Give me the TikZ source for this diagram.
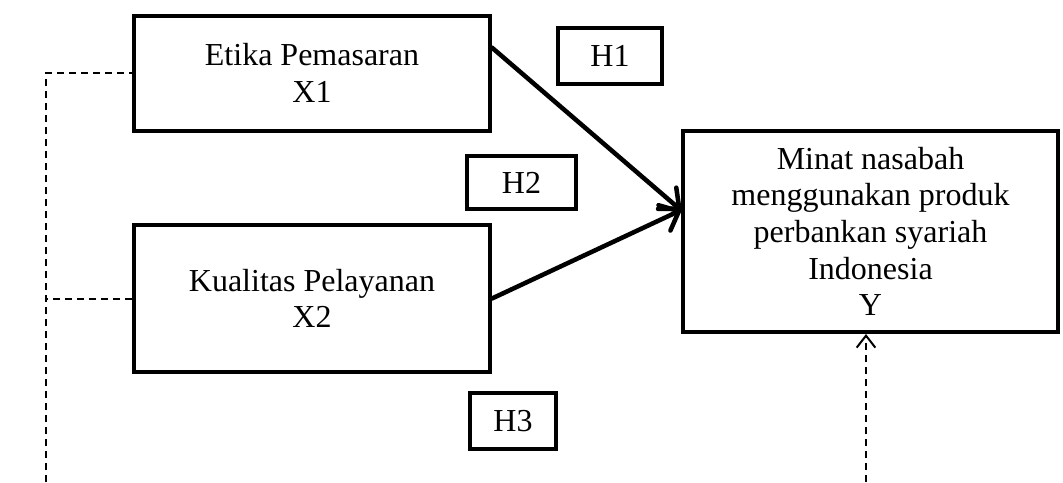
\documentclass[tikz,border=0pt]{standalone}
\usepackage{fontspec}
\setmainfont{Liberation Serif}
\usetikzlibrary{arrows.meta,calc}
\begin{document}
\begin{tikzpicture}[x=0.75pt,y=-0.75pt,
  box/.style={draw, line width=3pt, inner sep=0pt, align=center, fill=white,
    font=\fontsize{24}{27.5}\selectfont},
  mainarrow/.style={line width=3.4pt, line cap=round,
    -{Straight Barb[length=12pt,width=21pt,line cap=round,line join=round]}},
  dashline/.style={line width=1.5pt, dash pattern=on 5.5pt off 3.5pt},
  dasharrow/.style={dashline, -{Straight Barb[length=9pt,width=14pt]}}
  ]
\useasboundingbox (0,0) rectangle (1063,482);
\fill[white] (0,0) rectangle (1063,482);

\node[box, minimum width=267pt, minimum height=86.25pt] (X1) at (312,73) {Etika Pemasaran\\X1};
\node[box, minimum width=267pt, minimum height=110.25pt] (X2) at (312,298.5) {Kualitas Pelayanan\\X2};
\node[box, minimum width=281.25pt, minimum height=150.75pt] (Y) at (870.5,231.5)
  {Minat nasabah\\menggunakan produk\\perbankan syariah\\Indonesia\\Y};
\node[box, minimum width=78pt, minimum height=42pt] (H1) at (610,56) {H1};
\node[box, minimum width=81.75pt, minimum height=39.75pt] (H2) at (521.5,182.5) {H2};
\node[box, minimum width=64.5pt, minimum height=42pt] (H3) at (513,421) {H3};

\coordinate (tip) at ([yshift=16pt]Y.west);
\draw[mainarrow] ([yshift=19pt]X1.east) -- (tip);
\draw[mainarrow] (X2.east) -- (tip);

\coordinate (bl) at (46,482);
\coordinate (br) at (866,482);
\draw[dashline] (bl) |- (X1.west);
\draw[dashline] (X2.west) -- (X2.west -| bl);
\draw[dasharrow] (br) -- (br |- Y.south);
\end{tikzpicture}
\end{document}
